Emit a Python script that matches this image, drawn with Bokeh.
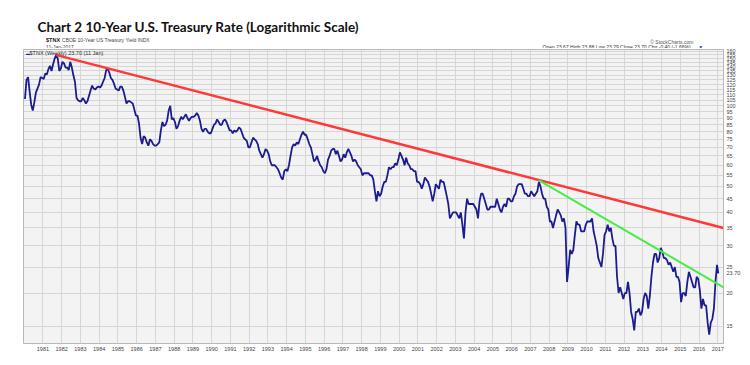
from bokeh.plotting import figure
from bokeh.models import Label, FixedTicker, NumeralTickFormatter, Range1d
from bokeh.layouts import column
from bokeh.core.properties import value
from bokeh.embed import file_html
from bokeh.resources import INLINE

# 10-Year Treasury yield x10 ($TNX), monthly readings from the chart
tnx_1980s = [
    106, 125, 128, 113, 101, 96, 103, 112, 116, 120, 128, 127,
    126, 132, 131, 137, 141, 135, 143, 150, 155, 150, 135, 138,
    146, 144, 139, 139, 136, 146, 139, 130, 123, 107, 105, 104,
    104, 107, 105, 102, 104, 109, 114, 119, 116, 115, 117, 118,
    117, 119, 123, 127, 136, 137, 133, 127, 125, 121, 116, 115,
    114, 118, 118, 114, 108, 102, 104, 104, 103, 102, 97, 92,
    92, 86, 76, 72, 77, 76, 73, 71, 75, 74, 72, 71,
    71, 72, 73, 81, 87, 84, 85, 88, 96, 100, 89, 90,
    87, 82, 84, 88, 91, 89, 91, 93, 90, 88, 90, 91,
    91, 92, 94, 92, 88, 82, 80, 82, 82, 80, 79, 79,
]
tnx_1990s = [
    82, 85, 86, 89, 87, 85, 85, 88, 89, 87, 84, 81,
    81, 79, 81, 80, 81, 83, 82, 79, 76, 75, 74, 70,
    70, 73, 76, 75, 74, 72, 68, 66, 64, 66, 69, 68,
    66, 62, 60, 60, 60, 59, 58, 56, 54, 53, 57, 58,
    57, 60, 65, 70, 72, 71, 73, 72, 75, 78, 80, 78,
    78, 75, 72, 70, 66, 62, 63, 65, 62, 60, 59, 57,
    56, 58, 63, 65, 68, 69, 69, 66, 68, 65, 62, 63,
    66, 64, 67, 69, 67, 65, 62, 63, 62, 60, 59, 58,
    55, 56, 56, 56, 56, 55, 55, 53, 48, 44, 48, 46,
    47, 50, 52, 52, 55, 59, 58, 59, 59, 61, 60, 63,
]
tnx_2000s = [
    67, 65, 63, 60, 64, 61, 60, 58, 58, 57, 57, 52,
    52, 51, 49, 51, 54, 53, 52, 50, 47, 44, 47, 51,
    50, 49, 53, 52, 52, 49, 46, 43, 38, 39, 40, 40,
    40, 39, 38, 40, 36, 32, 40, 45, 43, 43, 43, 43,
    42, 41, 38, 44, 47, 47, 45, 43, 41, 41, 42, 42,
    42, 42, 45, 43, 41, 40, 42, 43, 42, 45, 45, 44,
    44, 46, 47, 50, 51, 51, 51, 49, 47, 47, 46, 46,
    48, 47, 46, 47, 48, 52, 50, 47, 45, 45, 42, 41,
    37, 37, 35, 37, 39, 41, 40, 39, 37, 38, 35, 22,
    25, 29, 28, 29, 33, 37, 36, 36, 34, 34, 34, 36,
]
tnx_2010s = [
    37, 37, 37, 38, 34, 32, 30, 27, 26, 25, 28, 33,
    34, 36, 34, 35, 32, 30, 30, 23, 20, 21, 20, 19,
    20, 20, 22, 20, 17, 16, 14.5, 17, 17, 17.5, 16.5, 17,
    19, 20, 19.5, 17.5, 19.5, 23, 26, 28, 28, 26, 27, 29.5,
    28.5, 27, 27, 26.5, 25.5, 26, 25, 24, 25, 23, 23, 22,
    18.5, 20, 20, 19.5, 22, 24, 23, 22, 21, 21, 23, 22.5,
    20.5, 17.5, 19, 18, 18, 15.5, 14, 15.5, 16, 17.5, 22, 25.5,
]
last_date = 2017 + 10 / 365   # 11 Jan 2017
last_close = 23.70

# trend lines (decimal year, value)
red_x = [1981.69, 2017.304]
red_y = [155.0, 35.0]
green_x = [2007.44, 2017.304]
green_y = [52.8, 21.0]

year_ticks = list(range(1981, 2018))
value_ticks = list(range(15, 165, 5))

values = tnx_1980s + tnx_1990s + tnx_2000s + tnx_2010s
dates = [1980 + (i + 0.5) / 12 for i in range(len(values))]
dates.append(last_date)
values.append(last_close)

W = 745
HEAD_H = 48

# ---------- header (title and quote lines) ----------
h = figure(width=W, height=HEAD_H, output_backend="svg", toolbar_location=None,
           x_range=Range1d(0, W), y_range=Range1d(HEAD_H, 0),
           x_axis_type=None, y_axis_type=None, min_border=0)
h.outline_line_color = None
h.background_fill_color = "white"
h.border_fill_color = "white"
h.grid.grid_line_color = None

def htext(x, y, t, size, bold=False, color="#333333", align="left", baseline="middle", font="Liberation Sans"):
    h.text(x=[x], y=[y], text=[t], text_font=value(font), text_font_size=size,
           text_font_style="bold" if bold else "normal", text_color=color,
           text_align=align, text_baseline=baseline)

htext(15, 26, "Chart 2 10-Year U.S. Treasury Rate (Logarithmic Scale)", "13.5px", bold=True,
      color="#111111", baseline="alphabetic", font="Lato")
htext(24, 39.5, "$TNX", "5.5px", bold=True, color="#222222")
htext(41, 39.5, "CBOE 10-Year US Treasury Yield INDX", "5px", color="#444444")
htext(24, 46, "11-Jan-2017", "5px", color="#444444")
htext(713, 41, "\u00a9 StockCharts.com", "5px", color="#555555", align="right")
htext(716, 46, "Open 23.67  High 23.88  Low 23.29  Close 23.70  Chg -0.40 (-1.66%)", "5px",
      color="#333333", align="right")
htext(718, 46, "\u25bc", "5px", color="#2244cc")

# ---------- main chart ----------
p = figure(width=W, height=314, output_backend="svg", toolbar_location=None,
           y_axis_type="log", y_axis_location="right",
           x_range=Range1d(1979.964, 2017.304), y_range=Range1d(12.96, 162.3),
           min_border_left=23, min_border_top=1, min_border_right=22, min_border_bottom=19)

p.background_fill_color = "#f3f3f3"
p.border_fill_color = "white"
p.outline_line_color = "#b8b8b8"

p.xaxis.ticker = FixedTicker(ticks=year_ticks)
p.xaxis.formatter = NumeralTickFormatter(format="0")
p.yaxis.ticker = FixedTicker(ticks=value_ticks + [last_close])
p.yaxis.formatter = NumeralTickFormatter(format="0")
p.yaxis.major_label_overrides = {last_close: "23.70"}
for ax in (p.xaxis[0], p.yaxis[0]):
    ax.major_label_text_font = "Liberation Sans"
    ax.major_label_text_font_size = "5.5px"
    ax.major_label_text_color = "#444444"
    ax.major_tick_out = 0
    ax.major_tick_in = 0
    ax.minor_tick_out = 0
    ax.minor_tick_in = 0
    ax.axis_line_color = "#b8b8b8"
    ax.major_label_standoff = 3
p.xaxis.axis_line_color = None

p.xgrid.grid_line_color = "#d6d6d6"
p.ygrid.grid_line_color = "#d6d6d6"
p.xgrid.ticker = FixedTicker(ticks=year_ticks)
p.ygrid.ticker = FixedTicker(ticks=value_ticks)

p.line(dates, values, line_color="#1c1c8f", line_width=1.8)
p.line(red_x, red_y, line_color="#ff3838", line_width=2.5)
p.line(green_x, green_y, line_color="#44ee44", line_width=2)

p.add_layout(Label(x=6, y=290.5, x_units="screen", y_units="screen",
                   text="$TNX (Weekly) 23.70 (11 Jan)", text_font="Liberation Sans",
                   text_font_size="5.5px", text_color="#333333", text_baseline="middle"))
p.add_layout(Label(x=2.5, y=290.5, x_units="screen", y_units="screen",
                   text="\u25ac", text_font="Liberation Sans",
                   text_font_size="4px", text_color="#1c1c8f", text_baseline="middle"))

layout = column(h, p, spacing=0)
open("out.html", "w").write(file_html(layout, INLINE))
